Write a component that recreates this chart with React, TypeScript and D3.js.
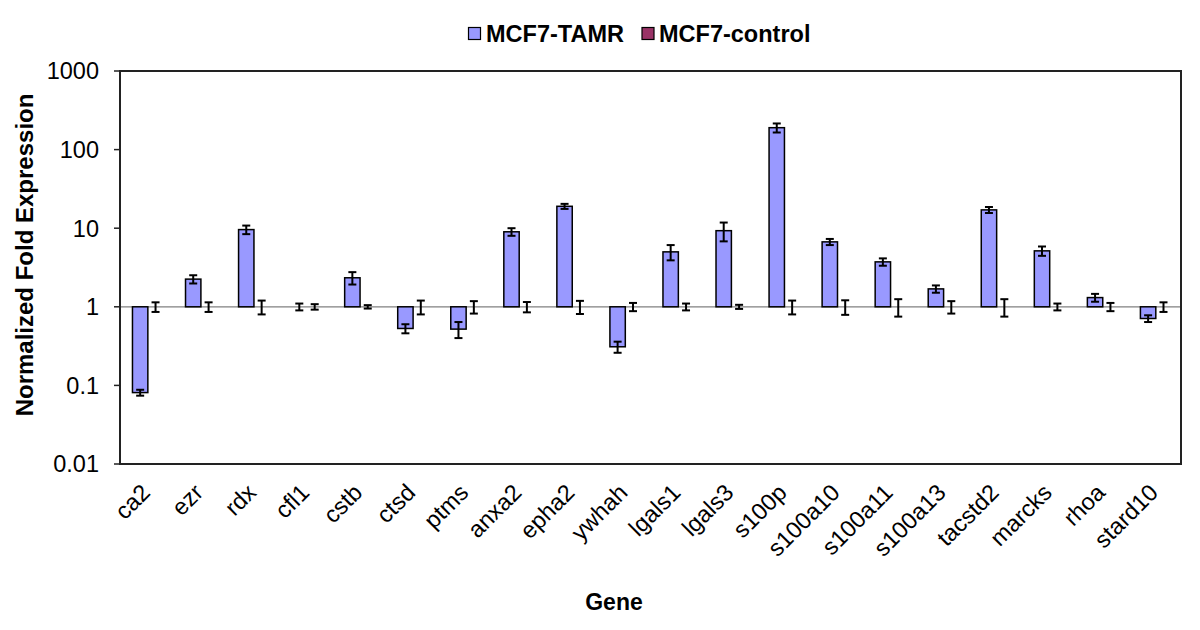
import React from "react";
import * as d3 from "d3";

const genes = ["ca2","ezr","rdx","cfl1","cstb","ctsd","ptms","anxa2","epha2","ywhah","lgals1","lgals3","s100p","s100a10","s100a11","s100a13","tacstd2","marcks","rhoa","stard10"];
const tamr = [0.081, 2.25, 9.6, 1.0, 2.34, 0.53, 0.52, 9.0, 19, 0.31, 5.0, 9.3, 190, 6.7, 3.73, 1.69, 17.1, 5.15, 1.31, 0.71];
const tamrErr = [0.007, 0.27, 1.2, 0.1, 0.42, 0.07, 0.12, 1.0, 1.4, 0.05, 1.1, 2.5, 25, 0.6, 0.4, 0.18, 1.5, 0.7, 0.15, 0.07];
const ctrl = [1,1,1,1,1,1,1,1,1,1,1,1,1,1,1,1,1,1,1,1];
const ctrlErr = [0.14, 0.14, 0.2, 0.08, 0.05, 0.2, 0.18, 0.15, 0.19, 0.12, 0.1, 0.06, 0.2, 0.21, 0.25, 0.18, 0.25, 0.1, 0.12, 0.14];
const yTicks = [0.01, 0.1, 1, 10, 100, 1000];
const seriesNames = ["MCF7-TAMR", "MCF7-control"];
const seriesColors = ["#9999FF", "#993366"];

export default function App() {
  const W = 1200, H = 630;
  const L = 120, R = 1181, T = 71, B = 464;
  const x = d3.scaleBand<string>().domain(genes).range([L, R]);
  const y = d3.scaleLog().domain([0.01, 1000]).range([B, T]);
  const bw = x.bandwidth();
  const barW = bw * 0.29;
  const off = bw * 0.235;
  const font = "Arial, 'Liberation Sans', Helvetica, sans-serif";
  const y1 = y(1);

  const series = [
    { vals: tamr, errs: tamrErr },
    { vals: ctrl, errs: ctrlErr },
  ];

  return (
    <svg width={W} height={H} style={{ position: "absolute", left: 0, top: 0, background: "#fff" }} fontFamily={font}>
      <rect x={0} y={0} width={W} height={H} fill="#fff" />
      <line x1={L} x2={R} y1={y1} y2={y1} stroke="#808080" strokeWidth={1.2} />
      {series.map((s, si) =>
        genes.map((g, i) => {
          const bx = (x(g) as number) + off + si * barW;
          const v = s.vals[i];
          const top = Math.min(y(v), y1);
          const h = Math.abs(y(v) - y1);
          return h > 0.5 ? (
            <rect key={`b${si}-${i}`} x={bx} y={top} width={barW} height={h}
              fill={seriesColors[si]} stroke="#000" strokeWidth={1.5} />
          ) : null;
        })
      )}
      {series.map((s, si) =>
        genes.map((g, i) => {
          const cx = (x(g) as number) + off + si * barW + barW / 2;
          const v = s.vals[i], e = s.errs[i];
          const ya = y(v + e), yb = y(Math.max(v - e, 0.0001));
          return (
            <g key={`e${si}-${i}`} stroke="#000" strokeWidth={2}>
              <line x1={cx} x2={cx} y1={ya} y2={yb} />
              <line x1={cx - 4} x2={cx + 4} y1={ya} y2={ya} />
              <line x1={cx - 4} x2={cx + 4} y1={yb} y2={yb} />
            </g>
          );
        })
      )}
      <rect x={L} y={T} width={R - L} height={B - T} fill="none" stroke="#222" strokeWidth={2} />
      {yTicks.map((t) => (
        <g key={`t${t}`}>
          <line x1={L - 6} x2={L} y1={y(t)} y2={y(t)} stroke="#222" strokeWidth={1.5} />
          <text x={L - 21} y={y(t)} dy="0.36em" textAnchor="end" fontSize={23.5} fill="#000">{String(t)}</text>
        </g>
      ))}
      {genes.map((g) => {
        const cx = (x(g) as number) + bw / 2;
        return (
          <text key={`xl${g}`} transform={`translate(${cx + 5},${494}) rotate(-45)`} textAnchor="end" fontSize={23.5} fill="#000">{g}</text>
        );
      })}
      <text x={614} y={610} textAnchor="middle" fontSize={23} fontWeight="bold" fill="#000">Gene</text>
      <text transform={`translate(33,255) rotate(-90)`} textAnchor="middle" fontSize={24} fontWeight="bold" fill="#000">Normalized Fold Expression</text>
      <rect x={468.5} y={27.5} width={12} height={12} fill={seriesColors[0]} stroke="#000" strokeWidth={1.2} />
      <text x={486} y={41.5} fontSize={23.5} fontWeight="bold" fill="#000">{seriesNames[0]}</text>
      <rect x={642} y={27.5} width={12} height={12} fill={seriesColors[1]} stroke="#000" strokeWidth={1.2} />
      <text x={659} y={41.5} fontSize={23.5} fontWeight="bold" fill="#000">{seriesNames[1]}</text>
    </svg>
  );
}
